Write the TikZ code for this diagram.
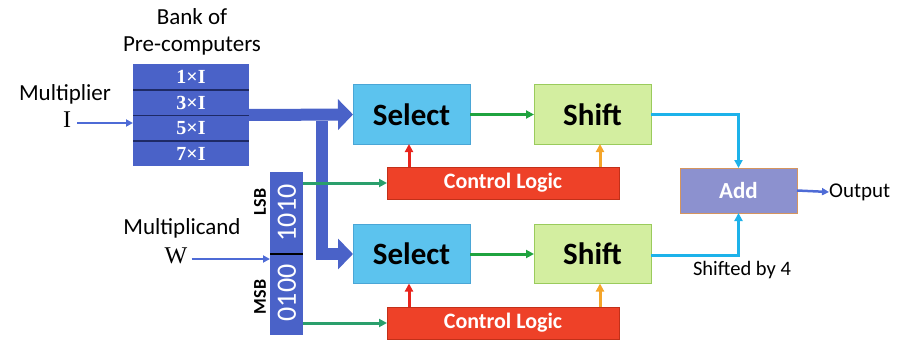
\documentclass[tikz,border=0pt]{standalone}
\usepackage{fontspec}
\setmainfont{Carlito}
\newfontfamily\serifface{Liberation Serif}
\usetikzlibrary{arrows.meta,calc}

\definecolor{bankblue}{HTML}{4A62C8}
\definecolor{banknavy}{HTML}{1E2A66}
\definecolor{selfill}{HTML}{5CC3EE}
\definecolor{seledge}{HTML}{4AA6D6}
\definecolor{shfill}{HTML}{D3EEA0}
\definecolor{shedge}{HTML}{9ACB5C}
\definecolor{clfill}{HTML}{EE4128}
\definecolor{cledge}{HTML}{C23019}
\definecolor{addfill}{HTML}{8C91CF}
\definecolor{addedge}{HTML}{D5955E}
\definecolor{pathgreen}{HTML}{1FA33F}
\definecolor{regteal}{HTML}{2A9F6C}
\definecolor{ctlred}{HTML}{E8241C}
\definecolor{ctlorange}{HTML}{F4A52A}
\definecolor{sumcyan}{HTML}{1DB2EA}
\definecolor{inblue}{HTML}{4E6BD6}

\tikzset{
  label/.style={font=\fontsize{23}{25}\selectfont, inner sep=0pt},
  block/.style={inner sep=0pt, outer sep=0pt, line width=1pt},
  selbox/.style={block, fill=selfill, draw=seledge, minimum width=117pt, minimum height=59pt,
    font=\fontsize{31}{32}\selectfont\bfseries},
  shbox/.style={block, fill=shfill, draw=shedge, minimum width=117pt, minimum height=59pt,
    font=\fontsize{31}{32}\selectfont\bfseries},
  clbox/.style={block, fill=clfill, draw=cledge, minimum width=232pt, minimum height=32pt,
    text=white, font=\fontsize{22}{24}\selectfont\bfseries},
  rowbox/.style={block, minimum width=116pt, minimum height=25.5pt, text=white,
    font=\serifface\fontsize{20}{21}\selectfont\bfseries},
  thin/.style={line width=3pt, -{Triangle[length=8pt,width=8pt]}},
  bigarrow/.style={line width=12pt, bankblue, -{Triangle[length=15pt,width=30pt]}},
  bitstext/.style={text=white, font=\fontsize{28}{30}\selectfont, rotate=90, inner sep=0pt},
  sidetext/.style={font=\fontsize{18}{19}\selectfont\bfseries, rotate=90, inner sep=0pt}
}

\begin{document}
\begin{tikzpicture}[x=1pt, y=-1pt]
\useasboundingbox (0,0) rectangle (903,345);

% bank of pre-computers
\node[label, align=center] (banktitle) at (192,32) {Bank of\\[2pt]Pre-computers};
\node[block, fill=bankblue, minimum width=116pt, minimum height=102pt] (bank) at (191,115) {};
\node[rowbox] (r1) at (191,77.25) {1×I};
\node[rowbox] (r2) at (191,102.75) {3×I};
\node[rowbox] (r3) at (191,128.25) {5×I};
\node[rowbox] (r4) at (191,153.75) {7×I};
\foreach \r in {r1,r2,r3}
  \draw[banknavy, line width=1.6pt] (\r.south west) -- (\r.south east);

% multiplier input
\node[label] (mult) at (65,94) {Multiplier};
\node[inner sep=0pt, font=\serifface\fontsize{24}{26}\selectfont] (inI) at (67,120) {I};
\draw[inblue, line width=2.5pt, -{Triangle[length=7pt,width=7pt]}]
  ([xshift=6pt,yshift=-3pt]inI.east) -- ([yshift=-3pt]inI.east -| bank.west);

% multiplicand register
\node[block, fill=bankblue, minimum width=33pt, minimum height=163pt] (reg) at (286.5,253.5) {};
\draw[black, line width=2pt] (reg.west) -- (reg.east);
\node[bitstext] (lsbbits) at (287,213) {1010};
\node[bitstext] (msbbits) at (287,293) {0100};
\node[sidetext] (lsb) at (260,202) {LSB};
\node[sidetext] (msb) at (260,297) {MSB};

\node[label] (mcand) at (182,228) {Multiplicand};
\node[inner sep=0pt, font=\serifface\fontsize{24}{26}\selectfont] (inW) at (176,256) {W};
\draw[inblue, line width=2.5pt, -{Triangle[length=7pt,width=7pt]}]
  ([xshift=4pt,yshift=-3pt]inW.east) -- ([yshift=-3pt]inW.east -| reg.west);

% upper datapath
\node[selbox] (sel1) at (411.5,114.5) {Select};
\node[shbox]  (sh1)  at (592.5,114.5) {Shift};
\node[clbox]  (cl1)  at (503,183) {Control Logic};

% lower datapath
\node[selbox] (sel2) at (411.5,254) {Select};
\node[shbox]  (sh2)  at (592.5,254) {Shift};
\node[clbox]  (cl2)  at (503,323) {Control Logic};

% adder
\node[block, fill=addfill, draw=addedge, minimum width=117pt, minimum height=45pt,
      text=white, font=\fontsize{23}{24}\selectfont\bfseries] (add) at (738.5,190.5) {Add};
\node[label, font=\fontsize{21}{22}\selectfont, anchor=west] (out) at (829,192) {Output};
\node[label, font=\fontsize{20.5}{22}\selectfont] (shby) at (742,270) {Shifted by 4};

% wide buses from the bank
\coordinate (split) at (322,115);
\draw[bigarrow] (bank.east) -- (sel1.west);
\draw[bigarrow] ([yshift=-6pt]split) |- (sel2.west);

% register bits to control logic
\draw[regteal, thin] (cl1.west -| reg.east) -- (cl1.west);
\draw[regteal, thin] (cl2.west -| reg.east) -- (cl2.west);

% select to shift
\draw[pathgreen, thin] (sel1.east) -- (sh1.west);
\draw[pathgreen, thin] (sel2.east) -- (sh2.west);

% control lines
\draw[ctlred, thin] ([xshift=22pt]cl1.north west) -- ([xshift=22pt]cl1.north west |- sel1.south);
\draw[ctlorange, thin] ([xshift=213pt]cl1.north west) -- ([xshift=213pt]cl1.north west |- sh1.south);
\draw[ctlred, thin] ([xshift=22pt]cl2.north west) -- ([xshift=22pt]cl2.north west |- sel2.south);
\draw[ctlorange, thin] ([xshift=213pt]cl2.north west) -- ([xshift=213pt]cl2.north west |- sh2.south);

% into the adder
\draw[sumcyan, thin] (sh1.east) -| (add.north);
\draw[sumcyan, thin] ([yshift=-1pt]sh2.east) -| (add.south);
\draw[inblue, line width=2.5pt, -{Triangle[length=7pt,width=7pt]}] (add.east) -- (out.west);
\end{tikzpicture}
\end{document}
